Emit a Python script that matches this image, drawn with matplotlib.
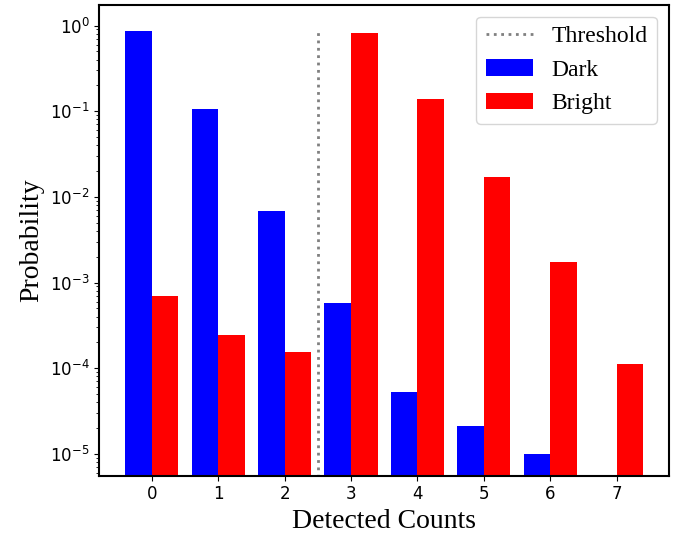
import numpy as np
import matplotlib
matplotlib.use("Agg")
import matplotlib.pyplot as plt

counts = [0, 1, 2, 3, 4, 5, 6, 7]
dark = [0.867, 0.105, 0.0068, 5.8e-4, 5.2e-5, 2.1e-5, 1.0e-5, 0.0]
bright = [7.0e-4, 2.45e-4, 1.55e-4, 0.82, 0.137, 0.0169, 1.74e-3, 1.12e-4]
threshold = 2.5

serif = {'family': 'Liberation Serif'}

fig = plt.figure(figsize=(6.79, 5.35), dpi=100)
ax = fig.add_axes([0.1463, 0.1108, 0.839, 0.8804])

x = np.array(counts)
w = 0.4
ax.vlines(threshold, 1e-6, 0.92, colors='gray', linestyles=':', linewidth=2, label='Threshold')
ax.bar(x - w/2, dark, width=w, color='blue', label='Dark')
ax.bar(x + w/2, bright, width=w, color='red', label='Bright')

ax.set_yscale('log')
ax.set_ylim(5.55e-6, 1.75)
ax.set_xlim(-0.79, 7.79)
ax.set_xticks(counts)
ax.tick_params(labelsize=12)
for s in ax.spines.values():
    s.set_linewidth(1.5)

ax.set_xlabel('Detected Counts', fontdict=serif, fontsize=20)
ax.set_ylabel('Probability', fontdict=serif, fontsize=20)
ax.legend(loc='upper right', prop={'family': 'Liberation Serif', 'size': 17})

fig.savefig('out.png', dpi=100)
